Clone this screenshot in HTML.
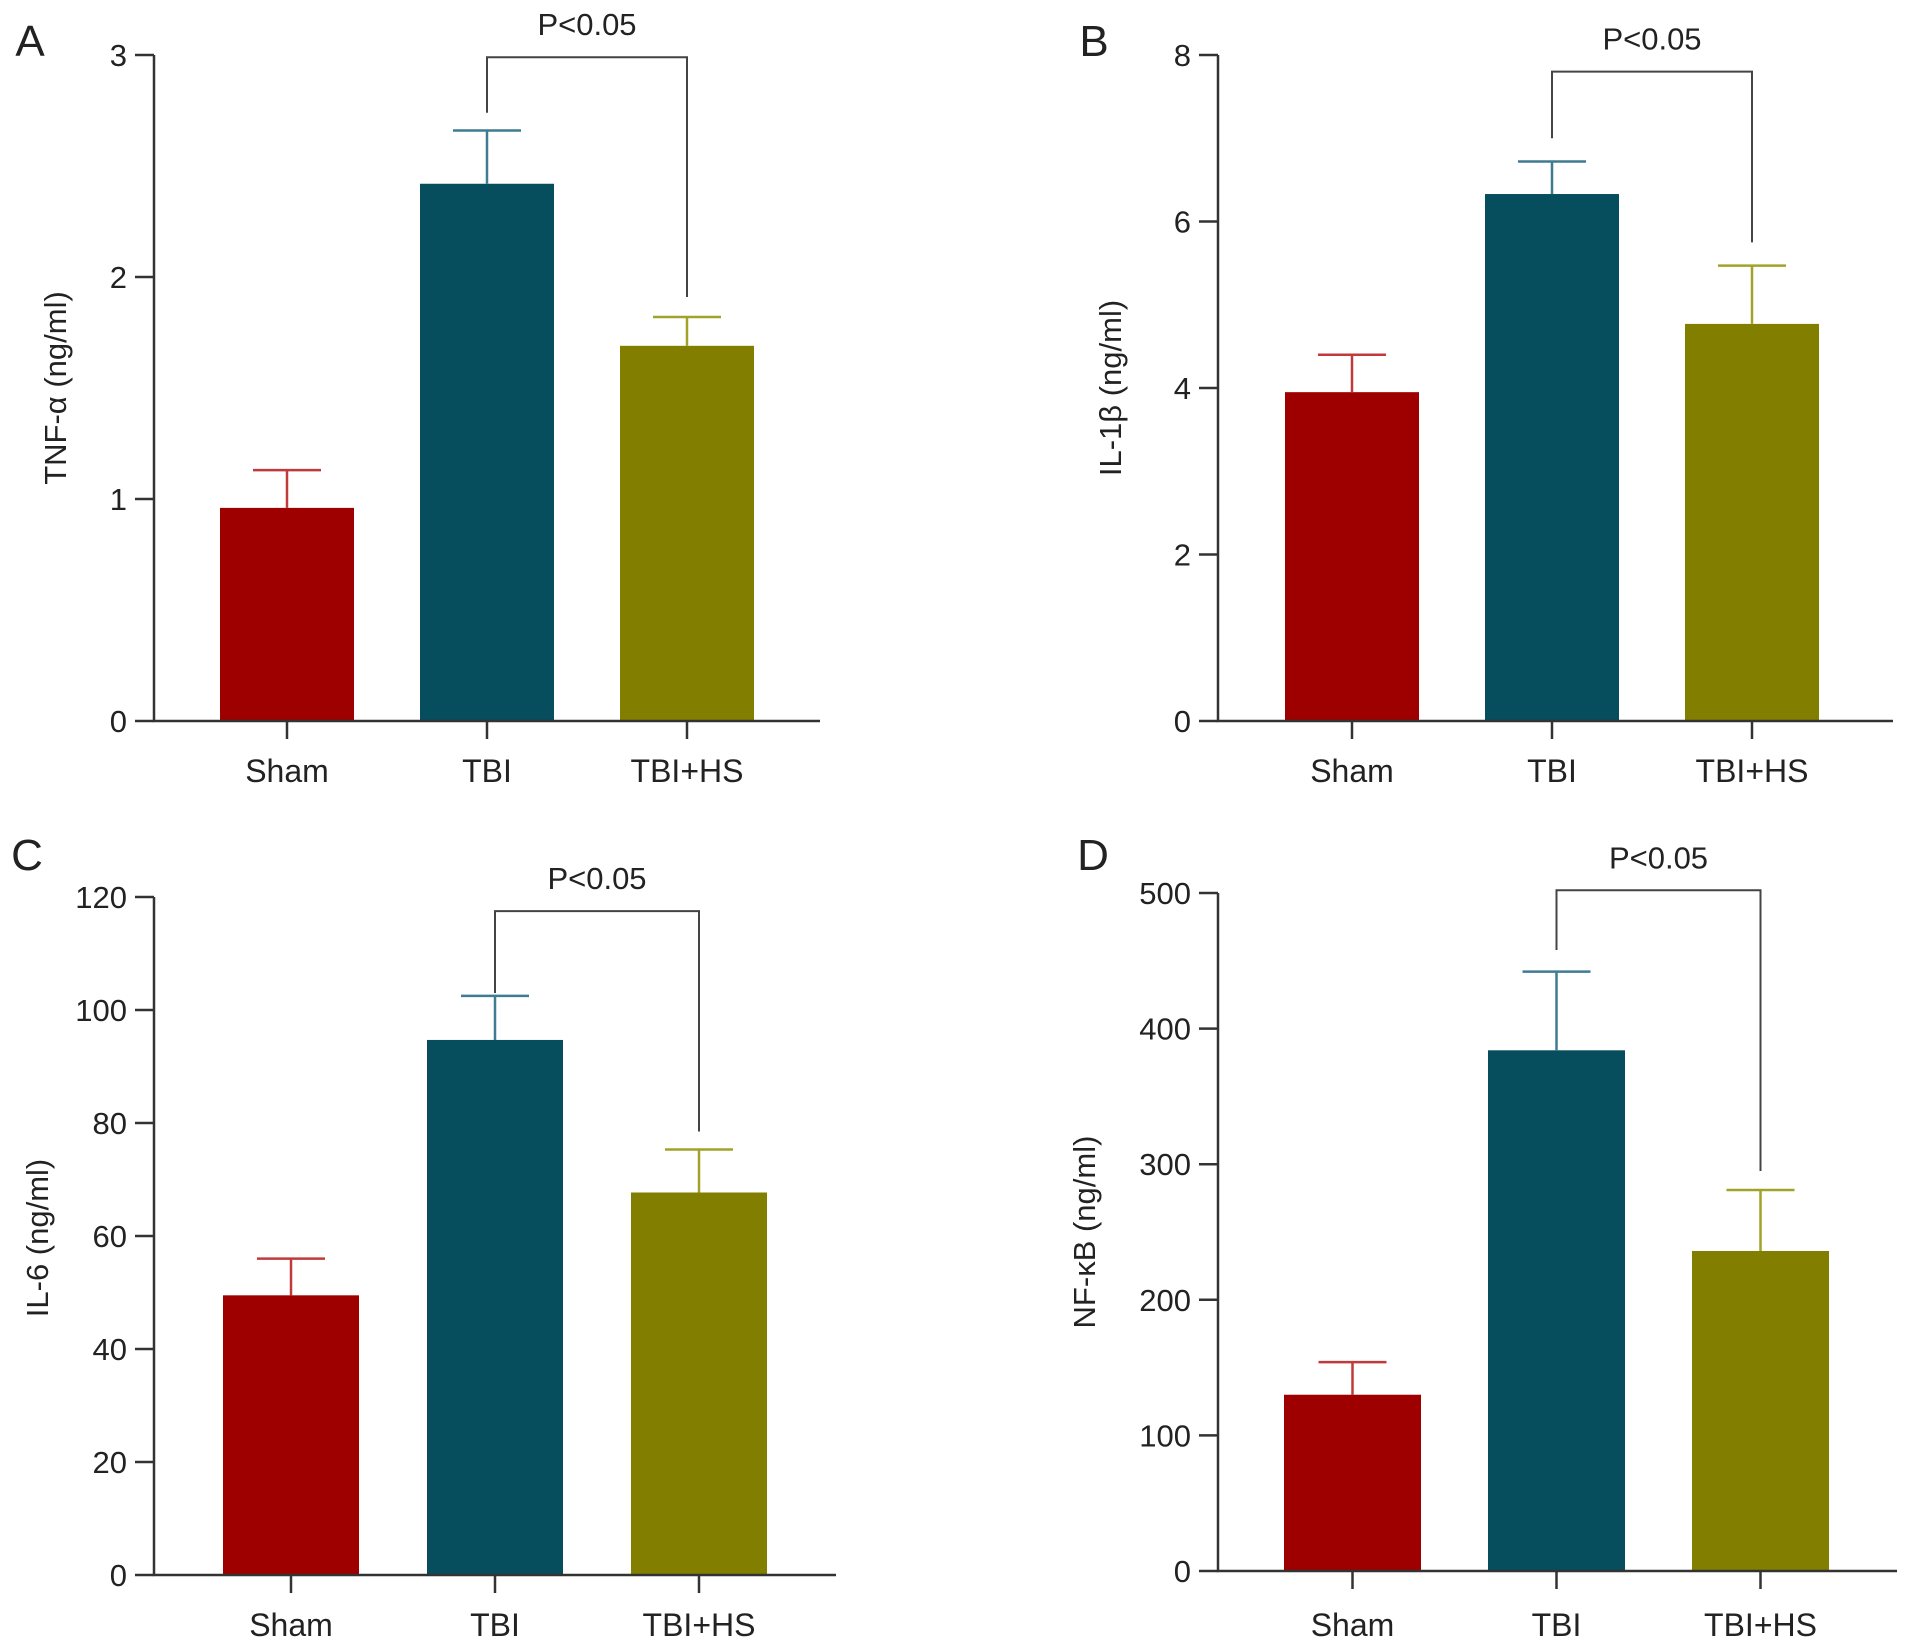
<!DOCTYPE html>
<html><head><meta charset="utf-8"><style>
html,body{margin:0;padding:0;background:#fff;}
svg{display:block;font-family:"Liberation Sans",Arial,sans-serif;}
</style></head><body>
<svg id="chart" width="1913" height="1648" viewBox="0 0 1913 1648" xmlns="http://www.w3.org/2000/svg"></svg>
<script>
const categories = ["Sham", "TBI", "TBI+HS"];
const valuesA = [0.96, 2.42, 1.69];
const errorsA = [1.13, 2.66, 1.82];
const ticksA = [0, 1, 2, 3];
const valuesB = [3.95, 6.33, 4.77];
const errorsB = [4.4, 6.72, 5.47];
const ticksB = [0, 2, 4, 6, 8];
const valuesC = [49.5, 94.7, 67.7];
const errorsC = [56, 102.5, 75.3];
const ticksC = [0, 20, 40, 60, 80, 100, 120];
const valuesD = [130, 384, 236];
const errorsD = [154, 442, 281];
const ticksD = [0, 100, 200, 300, 400, 500];
const bracketA = [2.74, 1.91, 2.99];
const bracketB = [7.0, 5.75, 7.8];
const bracketC = [103, 78.5, 117.5];
const bracketD = [458, 295, 502];

const svg = document.getElementById('chart');
const NS = 'http://www.w3.org/2000/svg';
function mk(tag, attrs, parent) {
  const e = document.createElementNS(NS, tag);
  for (const k in attrs) e.setAttribute(k, attrs[k]);
  (parent || svg).appendChild(e);
  return e;
}
const fills = ['#9e0000', '#064d5e', '#827f00'];
const errCols = ['#c03a3c', '#3f7c92', '#a2a22a'];

const panels = [
  {id:'a', letter:'A', title:'TNF-α (ng/ml)', vals:valuesA, errs:errorsA, ticks:ticksA, br:bracketA,
   ax:154, y0:721, y1:55, xEnd:820, x0:220, pitch:200, bw:134, lx:30, ly:40, tlx:55, tly:388, cy:771},
  {id:'b', letter:'B', title:'IL-1β (ng/ml)', vals:valuesB, errs:errorsB, ticks:ticksB, br:bracketB,
   ax:1218, y0:721, y1:55, xEnd:1893, x0:1285, pitch:200, bw:134, lx:1094, ly:40, tlx:1110, tly:388, cy:771},
  {id:'c', letter:'C', title:'IL-6 (ng/ml)', vals:valuesC, errs:errorsC, ticks:ticksC, br:bracketC,
   ax:154, y0:1575, y1:897, xEnd:836, x0:223, pitch:204, bw:136, lx:27, ly:854, tlx:37, tly:1238, cy:1625},
  {id:'d', letter:'D', title:'NF-κB (ng/ml)', vals:valuesD, errs:errorsD, ticks:ticksD, br:bracketD,
   ax:1218, y0:1571, y1:893, xEnd:1897, x0:1284, pitch:204, bw:137, lx:1093, ly:854, tlx:1084, tly:1232, cy:1625}
];

panels.forEach(p => {
  const g = mk('g', {});
  
  
  const tmax = p.ticks[p.ticks.length - 1];
  const Y = v => p.y0 - (v / tmax) * (p.y0 - p.y1);
  const X = i => p.x0 + i * p.pitch;
  const CX = i => X(i) + p.bw / 2;

  const lt = mk('text', {x:p.lx, y:p.ly + 16, 'font-size':44, fill:'#222', 'text-anchor':'middle'}, g);
  lt.textContent = p.letter;
  
  

  const yl = mk('text', {x:p.tlx, y:p.tly, 'font-size':31, fill:'#222', 'text-anchor':'middle', transform:`rotate(-90 ${p.tlx} ${p.tly})`, dy:11}, g);
  yl.textContent = p.title;
  
  

  p.vals.forEach((v, i) => {
    const r = mk('rect', {x:X(i), y:Y(v), width:p.bw, height:p.y0 - Y(v), fill:fills[i]}, g);
    
    
    const eb = mk('path', {d:`M${CX(i)} ${Y(v)} V${Y(p.errs[i])} M${CX(i)-34} ${Y(p.errs[i])} H${CX(i)+34}`, stroke:errCols[i], 'stroke-width':2.5, fill:'none'}, g);
    
    
  });

  const axis = mk('path', {d:`M${p.ax} ${p.y1} V${p.y0} H${p.xEnd}`, stroke:'#333', 'stroke-width':2.5, fill:'none'}, g);
  
  
  p.ticks.forEach(t => {
    const tk = mk('line', {x1:p.ax - 19, x2:p.ax, y1:Y(t), y2:Y(t), stroke:'#333', 'stroke-width':2.5}, g);
    
    
    const tl = mk('text', {x:p.ax - 27, y:Y(t) + 11, 'font-size':31, fill:'#222', 'text-anchor':'end'}, g);
    tl.textContent = t;
    
    
  });
  categories.forEach((c, i) => {
    const tk = mk('line', {x1:CX(i), x2:CX(i), y1:p.y0, y2:p.y0 + 18, stroke:'#333', 'stroke-width':2.5}, g);
    
    
    const tl = mk('text', {x:CX(i), y:p.cy + 11, 'font-size':32, fill:'#222', 'text-anchor':'middle'}, g);
    tl.textContent = c;
    
    
  });

  const br = mk('path', {d:`M${CX(1)} ${Y(p.br[0])} V${Y(p.br[2])} H${CX(2)} V${Y(p.br[1])}`, stroke:'#444', 'stroke-width':2, fill:'none'}, g);
  
  
  const pt = mk('text', {x:(CX(1) + CX(2)) / 2, y:Y(p.br[2]) - 22, 'font-size':31, fill:'#222', 'text-anchor':'middle'}, g);
  pt.textContent = 'P<0.05';
  
  
});
</script>
</body></html>
